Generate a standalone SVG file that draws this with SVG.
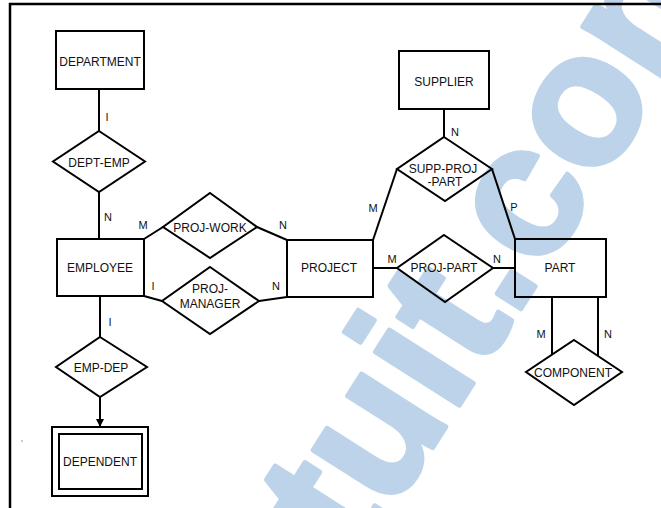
<svg xmlns="http://www.w3.org/2000/svg" width="661" height="508" viewBox="0 0 661 508">
  <style>
    .shape { fill: none; stroke: #000; stroke-width: 2; stroke-linejoin: miter; }
    .link { fill: none; stroke: #000; stroke-width: 2; }
    .frame { fill: none; stroke: #000; stroke-width: 2.5; }
    .name { font-family: "Liberation Sans", Arial, sans-serif; font-size: 12px; fill: #111; text-anchor: middle; }
    .card { font-family: "Liberation Sans", Arial, sans-serif; font-size: 11px; fill: #111; text-anchor: middle; }
    .mark { font-family: "Liberation Sans", Arial, sans-serif; font-weight: bold; fill: #bcd3ea; stroke: #bcd3ea; stroke-width: 5; stroke-linejoin: round; }
  </style>
  <defs>
    <marker id="arrow" viewBox="0 0 10 10" refX="10" refY="5" markerWidth="4" markerHeight="4" orient="auto">
      <path d="M0,0 L10,5 L0,10 Z" fill="#000"/>
    </marker>
  </defs>

  <rect width="661" height="508" fill="#fff"/>

  <!-- watermark -->
  <text class="mark" font-size="188" transform="translate(357,566) rotate(-57.5)">tuit.com</text>

  <!-- frame -->
  <path class="frame" d="M10,508 L10,4 L661,4"/>
  <circle cx="22" cy="441" r="0.8" fill="#888"/>

  <!-- connectors -->
  <g id="connectors">
    <line class="link" x1="99" y1="89" x2="99" y2="131"/>
    <line class="link" x1="99" y1="192" x2="99" y2="239"/>
    <line class="link" x1="144" y1="239" x2="163" y2="227"/>
    <line class="link" x1="257" y1="227" x2="287" y2="240"/>
    <line class="link" x1="144" y1="296" x2="162" y2="301"/>
    <line class="link" x1="259" y1="301" x2="287" y2="297"/>
    <line class="link" x1="100" y1="296" x2="100" y2="337"/>
    <line class="link" x1="100" y1="397" x2="100" y2="427" marker-end="url(#arrow)"/>
    <line class="link" x1="444" y1="109" x2="444" y2="137"/>
    <line class="link" x1="397" y1="169" x2="373" y2="240"/>
    <line class="link" x1="492" y1="169" x2="515" y2="239"/>
    <line class="link" x1="373" y1="268" x2="397" y2="268"/>
    <line class="link" x1="493" y1="268" x2="515" y2="268"/>
    <line class="link" x1="552" y1="297" x2="552" y2="355"/>
    <line class="link" x1="598" y1="297" x2="598" y2="356"/>

    <text class="card" x="107" y="121">I</text>
    <text class="card" x="108" y="221">N</text>
    <text class="card" x="143" y="229">M</text>
    <text class="card" x="283" y="229">N</text>
    <text class="card" x="153" y="290">I</text>
    <text class="card" x="276" y="290">N</text>
    <text class="card" x="110" y="326">I</text>
    <text class="card" x="455" y="136">N</text>
    <text class="card" x="373" y="212">M</text>
    <text class="card" x="514" y="211">P</text>
    <text class="card" x="392" y="263">M</text>
    <text class="card" x="497" y="263">N</text>
    <text class="card" x="541" y="338">M</text>
    <text class="card" x="608" y="338">N</text>
  </g>

  <!-- entities -->
  <g id="department">
    <rect class="shape" x="56" y="31" width="88" height="58"/>
    <text class="name" x="100" y="65.5">DEPARTMENT</text>
  </g>
  <g id="employee">
    <rect class="shape" x="57" y="239" width="87" height="57"/>
    <text class="name" x="100" y="272">EMPLOYEE</text>
  </g>
  <g id="dependent">
    <rect class="shape" x="52" y="427" width="96" height="69"/>
    <rect class="shape" x="59" y="434" width="83" height="55"/>
    <text class="name" x="100" y="466" font-size="11">DEPENDENT</text>
  </g>
  <g id="project">
    <rect class="shape" x="287" y="240" width="86" height="57"/>
    <text class="name" x="329" y="271.5">PROJECT</text>
  </g>
  <g id="supplier">
    <rect class="shape" x="399" y="51" width="90" height="58"/>
    <text class="name" x="444" y="86">SUPPLIER</text>
  </g>
  <g id="part">
    <rect class="shape" x="515" y="239" width="91" height="58"/>
    <text class="name" x="560" y="272">PART</text>
  </g>

  <!-- relationships -->
  <g id="dept-emp">
    <polygon class="shape" points="99,131 145,161.5 99,192 53,161.5"/>
    <text class="name" x="99" y="167">DEPT-EMP</text>
  </g>
  <g id="proj-work">
    <polygon class="shape" points="210,193 257,227 210,258 163,227"/>
    <text class="name" x="210" y="232">PROJ-WORK</text>
  </g>
  <g id="proj-manager">
    <polygon class="shape" points="210,267 259,301 210,334 162,301"/>
    <text class="name" x="210" y="293">PROJ-</text>
    <text class="name" x="210" y="308">MANAGER</text>
  </g>
  <g id="emp-dep">
    <polygon class="shape" points="100,337 147,367 100,397 56,367"/>
    <text class="name" x="101" y="372">EMP-DEP</text>
  </g>
  <g id="supp-proj-part">
    <polygon class="shape" points="444,137 492,169 445,201 397,169"/>
    <text class="name" x="443" y="172.5" font-size="10.5">SUPP-PROJ</text>
    <text class="name" x="445" y="186" font-size="10.5">-PART</text>
  </g>
  <g id="proj-part">
    <polygon class="shape" points="444,235 493,268 445,302 397,268"/>
    <text class="name" x="444" y="272">PROJ-PART</text>
  </g>
  <g id="component">
    <polygon class="shape" points="574,340 622,372 574,405 526,372"/>
    <text class="name" x="573" y="377">COMPONENT</text>
  </g>
</svg>
